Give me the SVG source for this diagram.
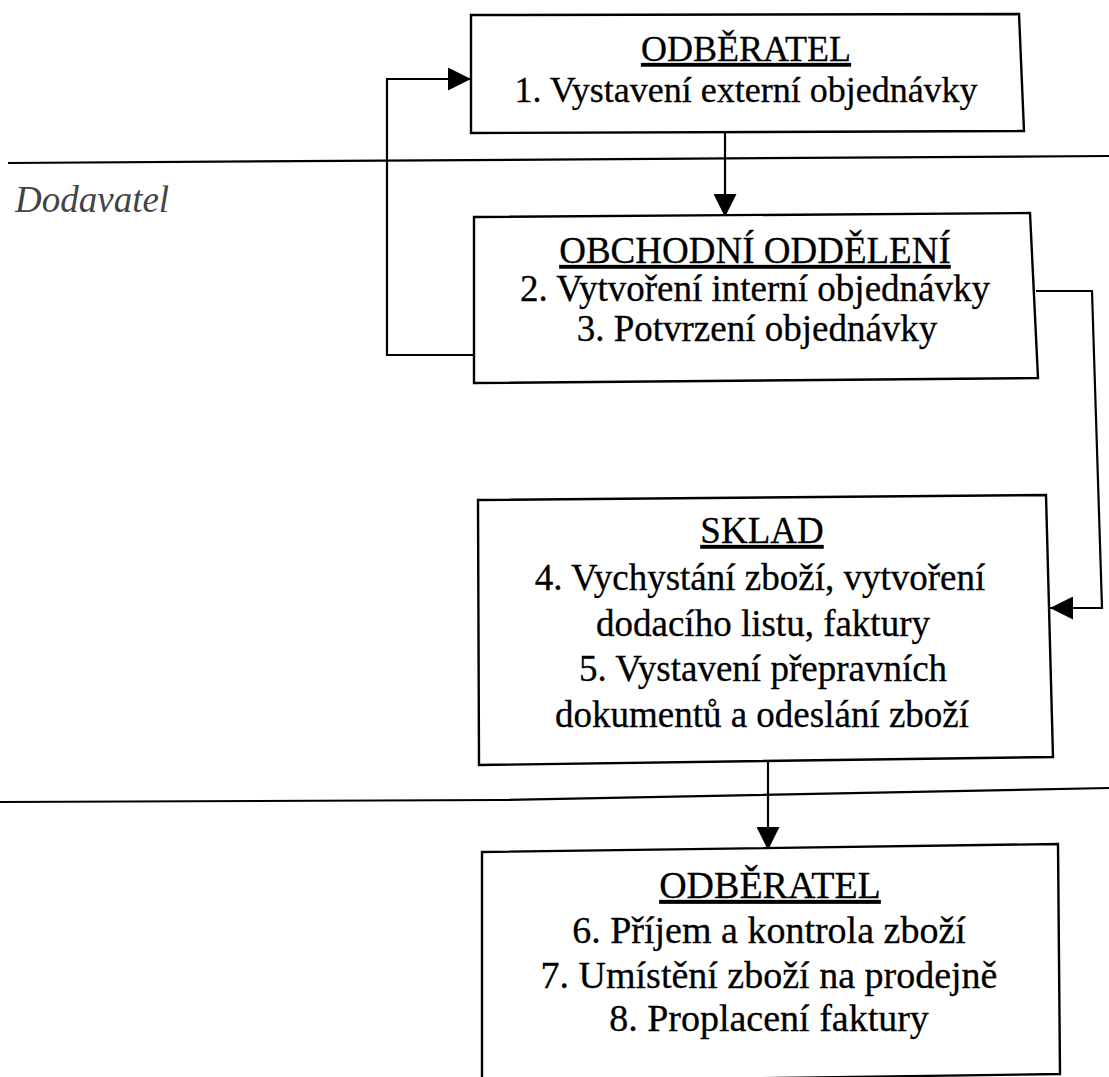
<svg xmlns="http://www.w3.org/2000/svg" width="1109" height="1077" viewBox="0 0 1109 1077">
<style>
  .box { fill: #fff; stroke: #000; stroke-width: 2.4; stroke-linejoin: miter; }
  .conn { fill: none; stroke: #000; stroke-width: 2.2; }
  .sep { fill: none; stroke: #000; stroke-width: 2.2; }
  .t { font-family: "Liberation Serif", "Times New Roman", serif; font-size: 37px; fill: #000; stroke: #000; stroke-width: 0.3; text-anchor: middle; }
  .h { text-decoration: underline; }
  .lane { font-family: "Liberation Serif", "Times New Roman", serif; font-size: 37px; font-style: italic; fill: #444; }
</style>
<defs>
  <marker id="arr" viewBox="0 0 23 23" refX="23" refY="11.5" markerWidth="23" markerHeight="23" markerUnits="userSpaceOnUse" orient="auto">
    <path d="M0,0 L23,11.5 L0,23 Z" fill="#000"/>
  </marker>
</defs>
<rect width="1109" height="1077" fill="#fff"/>

<g id="separators">
  <path class="sep" d="M8,163 L1109,156"/>
  <path class="sep" d="M0,802 L500,800 L1109,788"/>
</g>
<text id="lane-dodavatel" class="lane" x="15" y="212">Dodavatel</text>

<g id="connectors">
  <path class="conn" d="M725,133 L725,217" marker-end="url(#arr)"/>
  <path class="conn" d="M474,355 L387,355 L387,79 L471,79" marker-end="url(#arr)"/>
  <path class="conn" d="M1036,291 L1092,291 L1102,608 L1050,608" marker-end="url(#arr)"/>
  <path class="conn" d="M768,762 L768,850" marker-end="url(#arr)"/>
</g>

<g id="node-odberatel-1">
  <path class="box" d="M471,15 L1019,14 L1024,131 L471,133 Z"/>
  <text class="t h" x="746" y="61" style="font-size:36px">ODBĚRATEL</text>
  <text class="t" x="746" y="102" style="font-size:36px">1. Vystavení externí objednávky</text>
</g>

<g id="node-obchodni">
  <path class="box" d="M474,217 L1030,213 L1038,378 L474,383 Z"/>
  <text class="t h" x="755" y="263">OBCHODNÍ ODDĚLENÍ</text>
  <text class="t" x="755" y="301">2. Vytvoření interní objednávky</text>
  <text class="t" x="757" y="341">3. Potvrzení objednávky</text>
</g>

<g id="node-sklad">
  <path class="box" d="M478,500 L1046,495 L1053,757 L479,765 Z"/>
  <text class="t h" x="762" y="543">SKLAD</text>
  <text class="t" x="760" y="590">4. Vychystání zboží, vytvoření</text>
  <text class="t" x="763" y="636">dodacího listu, faktury</text>
  <text class="t" x="763" y="681">5. Vystavení přepravních</text>
  <text class="t" x="762" y="727">dokumentů a odeslání zboží</text>
</g>

<g id="node-odberatel-2">
  <path class="box" d="M482,852 L1058,844 L1060,1074 L482,1082 Z"/>
  <text class="t h" x="770" y="898" style="font-size:38px">ODBĚRATEL</text>
  <text class="t" x="769" y="943" style="font-size:38px">6. Příjem a kontrola zboží</text>
  <text class="t" x="769" y="988" style="font-size:38px">7. Umístění zboží na prodejně</text>
  <text class="t" x="769" y="1031" style="font-size:38px">8. Proplacení faktury</text>
</g>
</svg>
